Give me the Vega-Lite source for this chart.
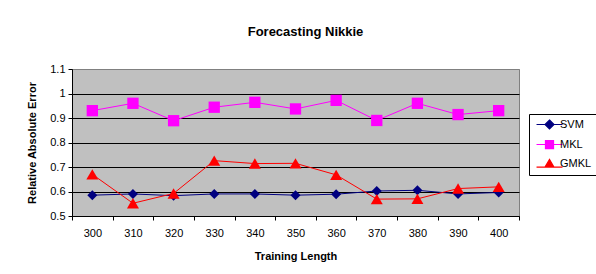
{
  "$schema": "https://vega.github.io/schema/vega-lite/v6.json",
  "autosize": "none",
  "width": 447,
  "height": 147,
  "padding": {"left": 72, "top": 69, "right": 77, "bottom": 58},
  "background": "white",
  "title": {"text": "Forecasting Nikkie", "font": "Liberation Sans", "fontSize": 13, "fontWeight": "bold", "color": "black", "anchor": "middle", "dx": 10, "offset": 24},
  "data": {"values": [
    {"x": 300, "series": "SVM", "v": 0.585}, {"x": 310, "series": "SVM", "v": 0.59}, {"x": 320, "series": "SVM", "v": 0.583}, {"x": 330, "series": "SVM", "v": 0.59}, {"x": 340, "series": "SVM", "v": 0.59}, {"x": 350, "series": "SVM", "v": 0.585}, {"x": 360, "series": "SVM", "v": 0.589}, {"x": 370, "series": "SVM", "v": 0.602}, {"x": 380, "series": "SVM", "v": 0.605}, {"x": 390, "series": "SVM", "v": 0.59}, {"x": 400, "series": "SVM", "v": 0.596},
    {"x": 300, "series": "MKL", "v": 0.93}, {"x": 310, "series": "MKL", "v": 0.96}, {"x": 320, "series": "MKL", "v": 0.889}, {"x": 330, "series": "MKL", "v": 0.944}, {"x": 340, "series": "MKL", "v": 0.964}, {"x": 350, "series": "MKL", "v": 0.937}, {"x": 360, "series": "MKL", "v": 0.972}, {"x": 370, "series": "MKL", "v": 0.89}, {"x": 380, "series": "MKL", "v": 0.96}, {"x": 390, "series": "MKL", "v": 0.914}, {"x": 400, "series": "MKL", "v": 0.93},
    {"x": 300, "series": "GMKL", "v": 0.67}, {"x": 310, "series": "GMKL", "v": 0.552}, {"x": 320, "series": "GMKL", "v": 0.592}, {"x": 330, "series": "GMKL", "v": 0.726}, {"x": 340, "series": "GMKL", "v": 0.714}, {"x": 350, "series": "GMKL", "v": 0.715}, {"x": 360, "series": "GMKL", "v": 0.668}, {"x": 370, "series": "GMKL", "v": 0.569}, {"x": 380, "series": "GMKL", "v": 0.57}, {"x": 390, "series": "GMKL", "v": 0.612}, {"x": 400, "series": "GMKL", "v": 0.619}
  ]},
  "encoding": {
    "x": {"field": "x", "type": "ordinal", "scale": {"type": "band", "paddingInner": 0, "paddingOuter": 0},
      "axis": {"title": "Training Length", "labelAngle": 0, "tickBand": "extent", "tickSize": 4, "tickColor": "black", "domainColor": "black", "labelFont": "Liberation Sans", "labelFontSize": 11, "labelColor": "black", "labelPadding": 7, "titleFont": "Liberation Sans", "titleFontSize": 11, "titleFontWeight": "bold", "titleColor": "black", "titlePadding": 12, "grid": false}},
    "y": {"field": "v", "type": "quantitative", "scale": {"domain": [0.5, 1.1], "nice": false, "zero": false},
      "axis": {"title": "Relative Absolute Error", "values": [0.5, 0.6, 0.7, 0.8, 0.9, 1, 1.1], "format": "~g", "tickSize": 4, "tickColor": "black", "domainColor": "black", "labelFont": "Liberation Sans", "labelFontSize": 11, "labelColor": "black", "labelPadding": 3, "titleFont": "Liberation Sans", "titleFontSize": 11, "titleFontWeight": "bold", "titleColor": "black", "titlePadding": 12,
        "grid": true, "gridColor": {"condition": {"test": "datum.value >= 1.05", "value": "#808080"}, "value": "black"}, "gridWidth": 1.2}},
    "color": {"field": "series", "type": "nominal", "scale": {"domain": ["SVM", "MKL", "GMKL"], "range": ["#000080", "#FF00FF", "#FF0000"]},
      "legend": {"title": null, "orient": "none", "legendX": 457, "legendY": 45, "strokeColor": "black", "fillColor": "white", "padding": 5, "rowPadding": 6, "cornerRadius": 0,
        "labelFont": "Liberation Sans", "labelFontSize": 11, "labelColor": "black", "symbolSize": 20, "labelOffset": 5, "symbolOffset": 10,
        "encode": {"symbols": {"update": {
          "shape": {"signal": "datum.value === 'SVM' ? 'M-5.8,0H5.8M0,-2L2,0L0,2L-2,0Z' : datum.value === 'MKL' ? 'M-5.8,0H5.8M-1.8,-1.8H1.8V1.8H-1.8Z' : 'M-5.8,1.6H5.8M-2,1.6L0,-1.8L2,1.6Z'"},
          "size": {"value": 20},
          "stroke": {"scale": "color", "field": "value"},
          "fill": {"scale": "color", "field": "value"},
          "strokeWidth": {"value": 1.2},
          "opacity": {"value": 1}
        }}}}}
  },
  "layer": [
    {"mark": {"type": "line", "strokeWidth": 1}},
    {"transform": [{"filter": "datum.series === 'SVM'"}], "mark": {"type": "point", "filled": true, "opacity": 1, "shape": "diamond", "size": 100}},
    {"transform": [{"filter": "datum.series === 'MKL'"}], "mark": {"type": "point", "filled": true, "opacity": 1, "shape": "square", "size": 128}},
    {"transform": [{"filter": "datum.series === 'GMKL'"}], "mark": {"type": "point", "filled": true, "opacity": 1, "shape": "triangle-up", "size": 144}}
  ],
  "config": {"view": {"fill": "#C0C0C0", "stroke": "#808080"}}
}
